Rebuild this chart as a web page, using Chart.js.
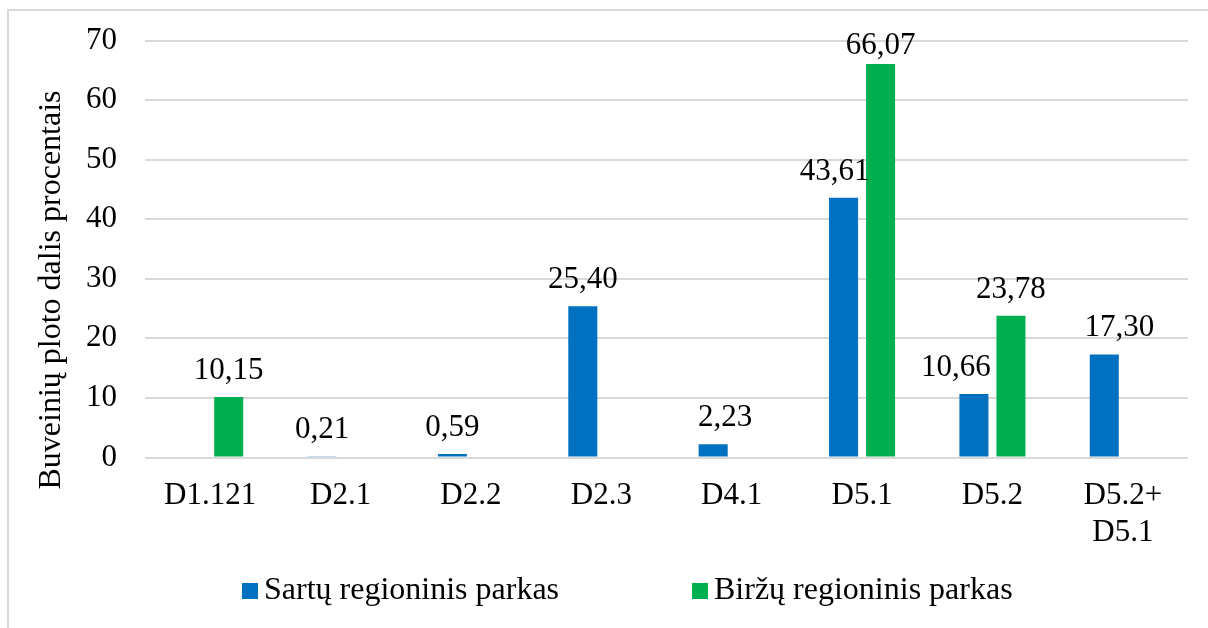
<!DOCTYPE html>
<html>
<head>
<meta charset="utf-8">
<script src="https://cdn.jsdelivr.net/npm/chart.js@4.4.1/dist/chart.umd.min.js"></script>
<style>
  html, body { margin: 0; padding: 0; background: #ffffff; }
  #wrap { position: relative; width: 1208px; height: 628px; overflow: hidden; }
  #frame { position: absolute; left: 7px; top: 9px; width: 1300px; height: 700px; border: 2px solid #d9d9d9; box-sizing: border-box; }
  #c { position: absolute; left: 0; top: 0; }
  .leg { position: absolute; top: 572px; height: 32px; line-height: 32px; font-family: "Liberation Serif", "Times New Roman", serif; font-size: 32px; color: #000; white-space: nowrap; }
  .leg i { display: inline-block; width: 16px; height: 16px; margin-right: 6px; vertical-align: 0px; }
</style>
</head>
<body>
<div id="wrap">
  <div id="frame"></div>
  <canvas id="c" width="1208" height="628"></canvas>
  <div id="legend"></div>
</div>
<script>
const categories = ["D1.121", "D2.1", "D2.2", "D2.3", "D4.1", "D5.1", "D5.2", ["D5.2+", "D5.1"]];
const seriesNames = ["Sartų regioninis parkas", "Biržų regioninis parkas"];
const sartuValues = [null, 0.21, 0.59, 25.40, 2.23, 43.61, 10.66, 17.30];
const birzuValues = [10.15, null, null, null, null, 66.07, 23.78, null];
const yTicks = [0, 10, 20, 30, 40, 50, 60, 70];
const yTitle = "Buveinių ploto dalis procentais";

// label horizontal nudges (style), per dataset per category
const labelDx = [
  [0, 0, 0, 0, 12, -9, -18, 15],
  [0, 0, 0, 0, 0, 0, 0, 0]
];

const colors = ["#0070C0", "#00B050"];
const FONT = "'Liberation Serif', 'Times New Roman', serif";

const labelPlugin = {
  id: 'valueLabels',
  afterDatasetsDraw(chart) {
    const ctx = chart.ctx;
    ctx.save();
    ctx.font = "31px " + FONT;
    ctx.fillStyle = "#000";
    ctx.textAlign = "center";
    ctx.textBaseline = "alphabetic";
    chart.data.datasets.forEach((ds, di) => {
      const meta = chart.getDatasetMeta(di);
      meta.data.forEach((bar, i) => {
        const v = ds.data[i];
        if (v === null || v === undefined) return;
        const txt = v.toFixed(2).replace('.', ',');
        const y = Math.max(bar.y - 18, chart.chartArea.top + 13);
        ctx.fillText(txt, bar.x + labelDx[di][i], y);
      });
    });
    // y axis title
    ctx.translate(52, 290);
    ctx.rotate(-Math.PI / 2);
    ctx.font = "32px " + FONT;
    ctx.textBaseline = "middle";
    ctx.fillText(yTitle, 0, 0);
    ctx.restore();
  }
};

const chart = new Chart(document.getElementById('c'), {
  type: 'bar',
  data: {
    labels: categories,
    datasets: [
      { label: seriesNames[0], data: sartuValues, backgroundColor: colors[0], categoryPercentage: 0.568, barPercentage: 0.784 },
      { label: seriesNames[1], data: birzuValues, backgroundColor: colors[1], categoryPercentage: 0.568, barPercentage: 0.784 }
    ]
  },
  options: {
    responsive: false,
    animation: false,
    layout: { padding: { left: 0, right: 20, top: 40.5, bottom: 70.5 } },
    plugins: {
      legend: { display: false },
      tooltip: { enabled: false }
    },
    scales: {
      x: {
        grid: { display: false, drawTicks: false },
        border: { display: false },
        ticks: { color: "#000", font: { family: FONT, size: 31, lineHeight: 1.2 }, padding: 20, maxRotation: 0, autoSkip: false },
        afterFit(scale) { scale.height = 100; }
      },
      y: {
        min: 0, max: 70,
        afterBuildTicks(scale) { scale.ticks = yTicks.map(v => ({ value: v })); },
        grid: { color: "#d9d9d9", lineWidth: 2, drawTicks: false },
        border: { display: false },
        ticks: { color: "#000", font: { family: FONT, size: 31 }, padding: 28 },
        title: { display: false },
        afterFit(scale) { scale.width = 145; scale.paddingTop = 10; scale.paddingBottom = 10; }
      }
    }
  },
  plugins: [labelPlugin]
});

const legendEl = document.getElementById('legend');
const legendLefts = [242, 692];
chart.data.datasets.forEach((ds, i) => {
  const d = document.createElement('div');
  d.className = 'leg';
  d.style.left = legendLefts[i] + 'px';
  const box = document.createElement('i');
  box.style.background = ds.backgroundColor;
  d.appendChild(box);
  d.appendChild(document.createTextNode(ds.label));
  legendEl.appendChild(d);
});
</script>
</body>
</html>
